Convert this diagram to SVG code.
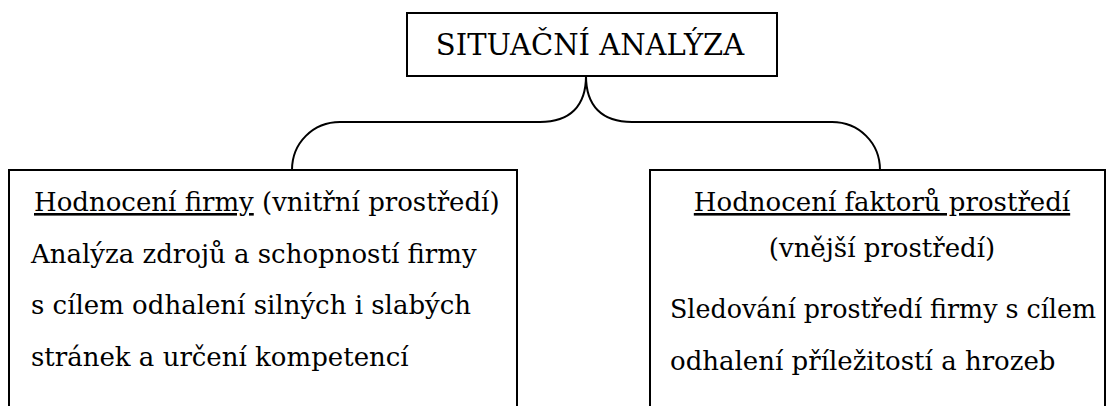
<svg xmlns="http://www.w3.org/2000/svg" width="1107" height="406" viewBox="0 0 1107 406">
  <style>
    .box { fill: #ffffff; stroke: #000000; stroke-width: 2; }
    .link { fill: none; stroke: #000000; stroke-width: 2; }
    .u { text-decoration: underline; }
  </style>
  <rect width="1107" height="406" fill="#ffffff"/>

  <!-- brace joining the top box to both boxes below -->
  <g id="connectors">
    <path class="link" d="M586,76 C586,106 570,122 540,122 L340,122 C313,122 292,143 292,170"/>
    <path class="link" d="M586,76 C586,106 602,122 632,122 L832,122 C859,122 880,143 880,170"/>
  </g>

  <g font-family="DejaVu Serif, serif" fill="#000000">
    <g id="node-situacni-analyza">
      <rect class="box" x="407" y="13" width="370" height="63"/>
      <text x="590" y="55" font-size="29" text-anchor="middle">SITUAČNÍ ANALÝZA</text>
    </g>

    <g id="node-hodnoceni-firmy" font-size="26">
      <rect class="box" x="9" y="170" width="508" height="250"/>
      <text x="34" y="211"><tspan class="u">Hodnocení firmy</tspan> (vnitřní prostředí)</text>
      <text x="31" y="263">Analýza zdrojů a schopností firmy</text>
      <text x="31" y="314">s cílem odhalení silných i slabých</text>
      <text x="31" y="366">stránek a určení kompetencí</text>
    </g>

    <g id="node-hodnoceni-prostredi" font-size="26">
      <rect class="box" x="650" y="170" width="455" height="250"/>
      <text x="882" y="211" text-anchor="middle"><tspan class="u">Hodnocení faktorů prostředí</tspan></text>
      <text x="882" y="257" text-anchor="middle">(vnější prostředí)</text>
      <text x="670" y="318" textLength="426" lengthAdjust="spacingAndGlyphs">Sledování prostředí firmy s cílem</text>
      <text x="670" y="370">odhalení příležitostí a hrozeb</text>
    </g>
  </g>
</svg>
